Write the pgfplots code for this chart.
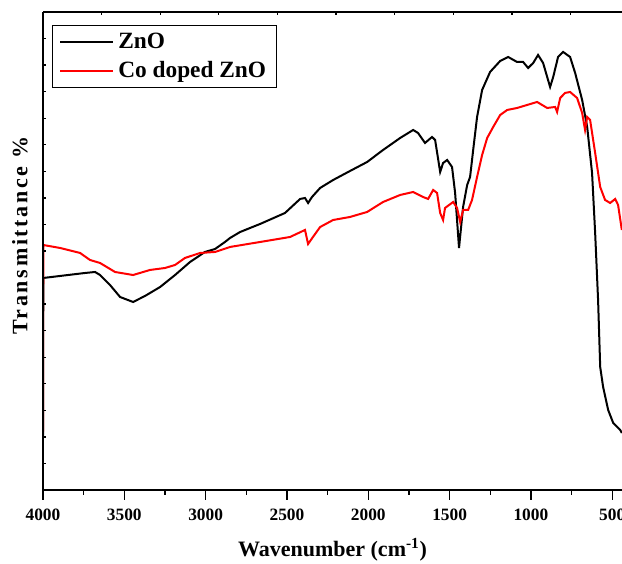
\documentclass[border=0pt]{standalone}
\usepackage{fontspec}
\setmainfont{Liberation Serif}
\usepackage{pgfplots}
\pgfplotsset{compat=1.18}

\begin{document}
\begin{tikzpicture}
\begin{axis}[
    name=main,
    scale only axis,
    width=434.25pt, height=358.5pt,
    x dir=reverse,
    xmin=440, xmax=4000,
    ymin=0, ymax=90,
    axis x line=bottom, axis y line=left,
    axis line style={-, line width=1.2pt},
    xtick={500,1000,...,4000},
    minor x tick num=1,
    xtick align=outside,
    ytick=\empty,
    major tick length=7.5pt,
    minor tick length=3.75pt,
    tick style={line width=1pt, black},
    /pgf/number format/assume math mode=true,
    /pgf/number format/set thousands separator={},
    xticklabel style={font=\fontsize{13}{13}\selectfont\bfseries, yshift=-3pt},
    xlabel={\textbf{Wavenumber (cm\textsuperscript{-1})}},
    ylabel={\addfontfeatures{LetterSpace=12}\textbf{Transmittance \%}},
    label style={font=\fontsize{16.5}{16.5}\selectfont},
    xlabel style={at={(axis description cs:0.5,-0.125)}, anchor=center},
    ylabel style={at={(axis description cs:-0.0397,0.535)}, anchor=center},
    legend style={at={(axis description cs:0.0155,0.973)}, anchor=north west,
        draw=black, line width=0.8pt, font=\fontsize{17.5}{17.5}\selectfont\bfseries,
        inner xsep=5pt, inner ysep=4pt, row sep=4pt,
        nodes={inner xsep=3pt}},
    legend cell align=left,
    legend image post style={line width=1.5pt},
    legend image code/.code={\draw[#1] (0cm,0cm) -- (1.4cm,0cm);},
]

% ZnO
\addplot[black, line width=1.5pt] coordinates {
(4000,9.4)(3998,39.92)(3895,40.30)(3742,40.86)(3680,41.05)(3649,40.48)
(3588,38.60)(3526,36.34)(3446,35.40)(3373,36.53)(3280,38.22)(3188,40.48)
(3096,42.93)(3004,44.82)(2942,45.38)(2881,46.70)(2850,47.45)(2788,48.58)
(2665,50.09)(2512,52.16)(2419,54.80)(2389,54.98)(2370,54.04)(2346,55.17)
(2296,56.87)(2216,58.37)(2112,60.07)(2007,61.76)(1909,64.02)(1804,66.28)
(1724,67.79)(1694,67.22)(1651,65.34)(1608,66.47)(1589,65.91)(1558,59.88)
(1540,61.57)(1515,62.14)(1485,60.82)(1466,55.93)(1442,45.57)(1417,53.29)
(1392,57.43)(1374,58.94)(1355,64.02)(1331,70.24)(1300,75.32)(1251,78.71)
(1189,80.78)(1140,81.53)(1085,80.59)(1048,80.59)(1017,79.46)(986,80.40)
(956,81.91)(925,80.40)(882,75.88)(863,77.77)(833,81.53)(802,82.48)
(759,81.53)(728,78.52)(685,73.44)(654,68.35)(624,59.69)(605,48.39)
(587,35.78)(574,23.16)(556,19.39)(525,15.06)(494,12.62)(451,11.30)(441,10.73)
};
\addlegendentry{ZnO}

% Co doped ZnO
\addplot[red, line width=1.5pt] coordinates {
(4000,9.98)(3998,46.13)(3895,45.57)(3772,44.63)(3711,43.31)(3649,42.74)
(3557,41.05)(3446,40.48)(3342,41.43)(3250,41.80)(3188,42.37)(3127,43.69)
(3034,44.63)(2942,44.82)(2850,45.76)(2665,46.70)(2481,47.64)(2389,48.96)
(2370,46.32)(2340,47.64)(2296,49.52)(2216,50.84)(2112,51.41)(2007,52.35)
(1909,54.23)(1804,55.55)(1724,56.11)(1663,55.17)(1632,54.80)(1601,56.49)
(1577,55.93)(1558,52.16)(1540,50.84)(1528,53.10)(1478,54.23)(1454,53.10)
(1435,50.46)(1417,52.72)(1386,52.72)(1362,54.61)(1331,58.94)(1300,63.08)
(1269,66.28)(1232,68.35)(1189,70.61)(1146,71.55)(1085,71.93)(1023,72.50)
(962,73.06)(900,71.93)(851,72.12)(839,71.18)(820,73.81)(790,74.76)
(759,74.94)(716,73.81)(685,70.99)(667,67.79)(654,70.24)(636,69.67)
(605,63.46)(574,57.05)(544,54.61)(513,54.04)(482,54.80)(464,53.67)(441,48.96)
};
\addlegendentry{Co doped ZnO}
\end{axis}

% top axis line and left ticks, short and inward
\begin{axis}[
    scale only axis,
    width=434.25pt, height=358.5pt,
    x dir=reverse,
    xmin=440, xmax=4000,
    ymin=0, ymax=90,
    axis x line*=top, axis y line*=left,
    axis line style={-, line width=1.2pt},
    xtick={3640,3279,2919,2558,2198,1837,1477,1116,756},
    xticklabels={},
    ytick={5,10,...,85},
    yticklabels={},
    tick align=inside,
    major tick length=2.5pt,
    tick style={line width=1pt, black},
]
\end{axis}

\pgfresetboundingbox
\path[use as bounding box] ([xshift=-32.25pt,yshift=-55.5pt]main.south west)
    rectangle ([yshift=9pt]main.north east);
\end{tikzpicture}
\end{document}
